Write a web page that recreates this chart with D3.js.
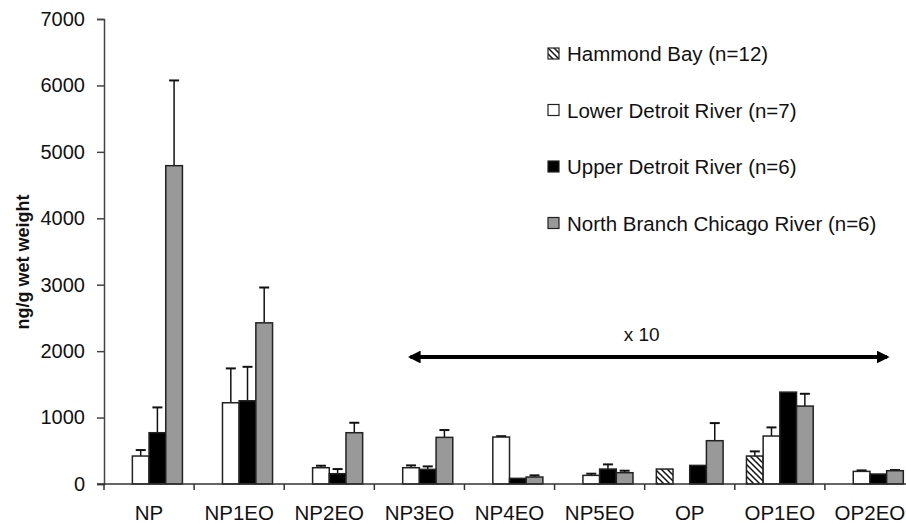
<!DOCTYPE html>
<html>
<head>
<meta charset="utf-8">
<script src="https://cdn.jsdelivr.net/npm/d3@7"></script>
<style>
  body { margin: 0; background: #fff; }
  svg { display: block; font-family: "Liberation Sans", Arial, sans-serif; }
</style>
</head>
<body>
<svg id="chart" width="906" height="523"></svg>
<script>
// categories on the x axis
const categories = ["NP", "NP1EO", "NP2EO", "NP3EO", "NP4EO", "NP5EO", "OP", "OP1EO", "OP2EO"];
const seriesNames = ["Hammond Bay (n=12)", "Lower Detroit River (n=7)", "Upper Detroit River (n=6)", "North Branch Chicago River (n=6)"];

// means (ng/g wet weight), null = not shown
const hammond = [null, null, null, null, null, null, 225, 421, null];
const lower   = [421, 1223, 245, 245, 707, 130, null, 722, 190];
const upper   = [772, 1253, 155, 220, 85, 225, 280, 1383, 150];
const north   = [4792, 2426, 772, 702, 105, 170, 652, 1173, 200];

// upper error bar lengths
const hammondErr = [null, null, null, null, null, null, 0, 70, null];
const lowerErr   = [90, 517, 30, 35, 13, 25, null, 130, 15];
const upperErr   = [381, 511, 70, 45, 0, 70, 0, 0, 0];
const northErr   = [1283, 532, 150, 110, 25, 30, 265, 185, 10];

const yTicks = [0, 1000, 2000, 3000, 4000, 5000, 6000, 7000];

const svg = d3.select("#chart");

// hatch pattern for Hammond Bay
const defs = svg.append("defs");
defs.append("pattern")
    .attr("id", "hatch")
    .attr("patternUnits", "userSpaceOnUse")
    .attr("width", 6).attr("height", 6)
  .append("path")
    .attr("d", "M0,0 L6,6 M-1,5 L1,7 M5,-1 L7,1")
    .attr("stroke", "#111")
    .attr("stroke-width", 1.5);

const fills = ["url(#hatch)", "#ffffff", "#000000", "#999999"];
const means = [hammond, lower, upper, north];
const errs = [hammondErr, lowerErr, upperErr, northErr];

// scales
const x = d3.scaleBand().domain(categories).range([104, 915]).paddingInner(0).paddingOuter(0);
const inner = d3.scaleBand().domain(d3.range(4)).range([0, x.bandwidth()]).paddingInner(0).paddingOuter(0.7);
const y = d3.scaleLinear().domain([0, 7000]).range([484, 19]);

// y axis
const yAxis = svg.append("g")
    .attr("transform", "translate(104,0)")
    .call(d3.axisLeft(y).tickValues(yTicks).tickSize(7).tickPadding(12).tickFormat(d3.format("d")));
yAxis.select(".domain").attr("stroke", "#444").attr("stroke-width", 1.5);
yAxis.selectAll(".tick line").attr("stroke", "#444").attr("stroke-width", 1.5);
yAxis.selectAll(".tick text").attr("font-size", 20).attr("fill", "#111").attr("font-family", "Liberation Sans, Arial, sans-serif");

// y axis title
svg.append("text")
    .attr("transform", "translate(23,262) rotate(-90)")
    .attr("text-anchor", "middle")
    .attr("dominant-baseline", "central")
    .attr("font-size", 18)
    .attr("font-weight", "bold")
    .attr("fill", "#111")
    .text("ng/g wet weight");

// bars
const rows = [];
categories.forEach((c, i) => {
    for (let s = 0; s < 4; s++) {
        if (means[s][i] != null) rows.push({ cat: c, s: s, v: means[s][i], e: errs[s][i] });
    }
});

// error bars (drawn before bars so the stem starts at the bar top)
const eb = svg.append("g").selectAll("g")
    .data(rows.filter(d => d.e > 0))
    .join("g");
eb.append("line")
    .attr("x1", d => x(d.cat) + inner(d.s) + inner.bandwidth() / 2)
    .attr("x2", d => x(d.cat) + inner(d.s) + inner.bandwidth() / 2)
    .attr("y1", d => y(d.v))
    .attr("y2", d => y(d.v + d.e))
    .attr("stroke", "#111").attr("stroke-width", 1.5);
eb.append("line")
    .attr("x1", d => x(d.cat) + inner(d.s) + inner.bandwidth() / 2 - 5)
    .attr("x2", d => x(d.cat) + inner(d.s) + inner.bandwidth() / 2 + 5)
    .attr("y1", d => y(d.v + d.e))
    .attr("y2", d => y(d.v + d.e))
    .attr("stroke", "#111").attr("stroke-width", 2);

svg.append("g").selectAll("rect")
    .data(rows)
    .join("rect")
    .attr("x", d => x(d.cat) + inner(d.s))
    .attr("y", d => y(d.v))
    .attr("width", inner.bandwidth())
    .attr("height", d => y(0) - y(d.v))
    .attr("fill", d => fills[d.s])
    .attr("stroke", "#222")
    .attr("stroke-width", 1.5);

// x axis
const xAxis = svg.append("g");
xAxis.append("line")
    .attr("x1", 97).attr("x2", 915)
    .attr("y1", y(0)).attr("y2", y(0))
    .attr("stroke", "#333").attr("stroke-width", 1.5);
xAxis.selectAll("line.tk")
    .data(categories)
    .join("line")
    .attr("class", "tk")
    .attr("x1", d => x(d)).attr("x2", d => x(d))
    .attr("y1", y(0)).attr("y2", y(0) + 6)
    .attr("stroke", "#333").attr("stroke-width", 1.5);
xAxis.selectAll("text")
    .data(categories)
    .join("text")
    .attr("x", d => x(d) + x.bandwidth() / 2)
    .attr("y", 520)
    .attr("text-anchor", "middle")
    .attr("font-size", 20.5)
    .attr("fill", "#111")
    .text(d => d);

// x10 arrow
defs.append("marker")
    .attr("id", "ah")
    .attr("viewBox", "0 0 10 10")
    .attr("refX", 8).attr("refY", 5)
    .attr("markerWidth", 3.2).attr("markerHeight", 3.2)
    .attr("orient", "auto-start-reverse")
  .append("path")
    .attr("d", "M0,0 L10,5 L0,10 z")
    .attr("fill", "#000");

const ax1 = x("NP3EO") + x.bandwidth() * 0.40;
const ax2 = x("OP2EO") + x.bandwidth() * 0.69;
svg.append("line")
    .attr("x1", ax1).attr("x2", ax2)
    .attr("y1", 357).attr("y2", 357)
    .attr("stroke", "#000").attr("stroke-width", 4)
    .attr("marker-start", "url(#ah)")
    .attr("marker-end", "url(#ah)");
svg.append("text")
    .attr("x", x("OP") - 3)
    .attr("y", 341)
    .attr("text-anchor", "middle")
    .attr("font-size", 19)
    .attr("fill", "#111")
    .text("x 10");

// legend
const lg = svg.append("g").selectAll("g")
    .data(seriesNames)
    .join("g")
    .attr("transform", (d, i) => `translate(548,${48 + i * 56.5})`);
lg.append("rect")
    .attr("width", 11).attr("height", 11)
    .attr("fill", (d, i) => fills[i])
    .attr("stroke", "#222").attr("stroke-width", 1.2);
lg.append("text")
    .attr("x", 19).attr("y", 5.5)
    .attr("dominant-baseline", "central")
    .attr("font-size", 20.5)
    .attr("fill", "#111")
    .text(d => d);
</script>
</body>
</html>
